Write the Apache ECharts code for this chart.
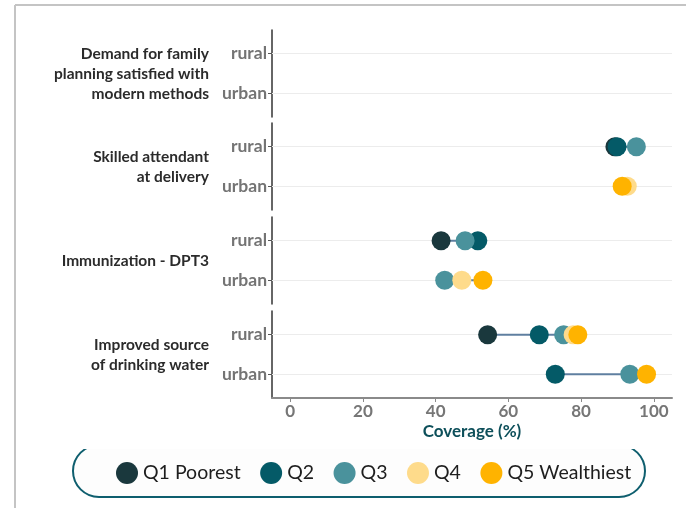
<!DOCTYPE html>
<html>
<head>
<meta charset="utf-8">
<script src="https://cdn.jsdelivr.net/npm/echarts@6/dist/echarts.min.js"></script>
<style>
  html, body { margin: 0; padding: 0; background: #fff; }
  #chart { width: 686px; height: 508px; }
</style>
</head>
<body>
<div id="chart"></div>
<script>
// indicators (facets), top to bottom
const facets = [
  "Demand for family\nplanning satisfied with\nmodern methods",
  "Skilled attendant\nat delivery",
  "Immunization - DPT3",
  "Improved source\nof drinking water"
];
const areas = ["rural", "urban"];
const quintiles = ["Q1 Poorest", "Q2", "Q3", "Q4", "Q5 Wealthiest"];
const colors = ["#1a383d", "#045a67", "#4a929c", "#fedb8b", "#ffb300"];
const xTicks = [0, 20, 40, 60, 80, 100];

// coverage per quintile, ordered facet by facet: [rural, urban, rural, urban, ...]
const q1 = [null, null, 89.3, null, 41.5, null, 54.3, null];
const q2 = [null, null, 89.9, null, 51.6, null, 68.5, 72.9];
const q3 = [null, null, 95.2, null, 48.1, 42.5, 75.2, 93.4];
const q4 = [null, null, null, 92.7, null, 47.2, 77.8, null];
const q5 = [null, null, null, 91.3, null, 53.0, 79.1, 98.0];
const values = [q1, q2, q3, q4, q5];

const chart = echarts.init(document.getElementById("chart"));

const FONT = "Lato";
const facetTops = [30, 123, 217, 311];
const facetH = 87;

const grids = [], xAxes = [], yAxes = [], series = [], graphics = [];

facets.forEach((name, f) => {
  const last = f === facets.length - 1;
  grids.push({ left: 272, right: 14, top: facetTops[f], height: facetH });
  xAxes.push({
    gridIndex: f, type: "value", min: -5, max: 105,
    show: last,
    axisLine: { show: true, onZero: false, lineStyle: { color: "#8a8a8a", width: 2 } },
    axisTick: { show: true, length: 4, customValues: xTicks, lineStyle: { color: "#8a8a8a" } },
    axisLabel: { customValues: xTicks, color: "#767676", fontFamily: FONT, fontWeight: "bold", fontSize: 17, margin: 5 },
    splitLine: { show: false },
    name: last ? "Coverage (%)" : "",
    nameLocation: "middle", nameGap: 25,
    nameTextStyle: { color: "#0d4f5a", fontFamily: FONT, fontWeight: "bold", fontSize: 17 }
  });
  yAxes.push({
    gridIndex: f, type: "value", min: -0.6, max: 1.6, inverse: true,
    axisLine: { show: true, onZero: false, lineStyle: { color: "#333", width: 1.5 } },
    axisTick: { show: true, length: 4, customValues: [0, 1], lineStyle: { color: "#555" } },
    axisLabel: {
      customValues: [0, 1], formatter: v => areas[Math.round(v)],
      color: "#747474", fontFamily: FONT, fontWeight: "bold", fontSize: 17.5, margin: 5
    },
    splitLine: { show: false }
  });

  // light horizontal guides at rural / urban
  series.push({
    type: "line", xAxisIndex: f, yAxisIndex: f, data: [], silent: true, z: 1,
    markLine: {
      silent: true, symbol: "none", label: { show: false }, z: 1,
      lineStyle: { color: "#ececec", type: "solid", width: 1 },
      data: [{ yAxis: 0 }, { yAxis: 1 }]
    }
  });

  // range line from lowest to highest quintile
  const ranges = [];
  areas.forEach((a, r) => {
    const vals = values.map(q => q[f * 2 + r]).filter(v => v != null);
    if (vals.length > 1) ranges.push([Math.min(...vals), Math.max(...vals), r]);
  });
  series.push({
    type: "custom", xAxisIndex: f, yAxisIndex: f, silent: true, z: 3,
    data: ranges,
    renderItem: (params, api) => {
      const a = api.coord([api.value(0), api.value(2)]);
      const b = api.coord([api.value(1), api.value(2)]);
      return {
        type: "line",
        shape: { x1: a[0], y1: a[1], x2: b[0], y2: b[1] },
        style: { stroke: "#5f7fa0", lineWidth: 2 }
      };
    }
  });

  quintiles.forEach((qn, qi) => {
    const pts = areas.map((a, r) => [values[qi][f * 2 + r], r]).filter(p => p[0] != null);
    series.push({
      name: qn, type: "scatter", xAxisIndex: f, yAxisIndex: f,
      symbolSize: 19, z: 6 + qi, clip: false,
      itemStyle: { color: colors[qi], opacity: 1 },
      data: pts
    });
  });

  graphics.push({
    type: "text", x: 209, y: facetTops[f] + facetH / 2,
    style: {
      text: name, align: "right", verticalAlign: "middle",
      font: "bold 15.5px " + FONT, fill: "#2b2b2b", lineHeight: 20
    }
  });
});

// frame and legend box
graphics.push(
  { type: "line", shape: { x1: 15, y1: 5, x2: 686, y2: 5 }, style: { stroke: "#c4c4c4", lineWidth: 2 } },
  { type: "line", shape: { x1: 15, y1: 5, x2: 15, y2: 508 }, style: { stroke: "#c4c4c4", lineWidth: 2 } },
  {
    type: "rect", z: -1, shape: { x: 73, y: 445, width: 572, height: 52, r: 26 },
    style: { fill: "#fdfdfd", stroke: "#0e5e6e", lineWidth: 2 }
  },
  { type: "rect", z: -1, shape: { x: 60, y: 440, width: 600, height: 9 }, style: { fill: "#fff" } }
);

chart.setOption({
  backgroundColor: "#fff",
  animation: false,
  grid: grids,
  xAxis: xAxes,
  yAxis: yAxes,
  legend: {
    data: quintiles,
    left: 116, top: 462, padding: 0,
    icon: "circle", itemWidth: 22, itemHeight: 22, itemGap: 19.5,
    textStyle: { fontFamily: FONT, fontSize: 19.5, color: "#1e1e1e" },
    selectedMode: false
  },
  graphic: graphics,
  series: series
});
</script>
</body>
</html>
